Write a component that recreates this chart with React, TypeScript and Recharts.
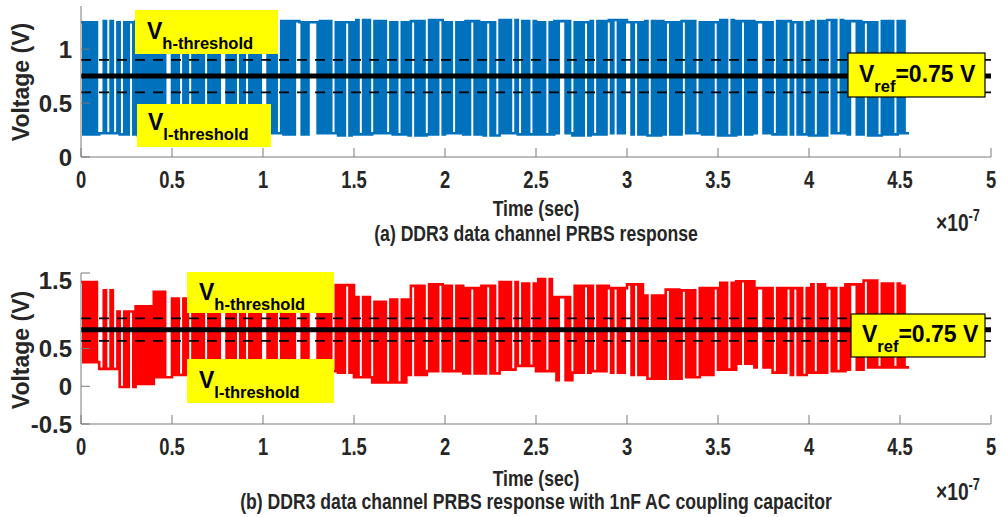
import { Line, LineChart, ReferenceLine, XAxis, YAxis } from "recharts";

// One bit period (1.25 ns) and the envelope sample spacing, both in units of 1e-7 s.
const UI = 0.0125;
const ENV_STEP = 0.1;

// Shared PRBS pattern, written as alternating run lengths (first run high).
const bitRuns = [
  "1111111 3 1212 12 112 11111111111111 3 1112 112 111112 111113 11112 112 111113 11112 1111113 1114",
  "11111121111211112111211111211121111211112111121111211111121111121121111121",
  "21112111112111131121111211211112121113121111211111121111121111211111121111",
  "21111211111311112111121211211121111211211113111211112111112111 2",
];

const timeTicks = [0, 0.5, 1, 1.5, 2, 2.5, 3, 3.5, 4, 4.5, 5];
const topVoltTicks = [0, 0.5, 1];
const bottomVoltTicks = [-0.5, 0, 0.5, 1, 1.5];

const V_REF = 0.75;
const V_H = 0.9;
const V_L = 0.6;

// Settled high / low levels every 10 ns, plain channel.
const plainHigh = [
  1.25, 1.26, 1.25, 1.26, 1.25, 1.26, 1.26, 1.25, 1.27, 1.26, 1.25, 1.26, 1.25, 1.26, 1.25, 1.27,
  1.26, 1.25, 1.26, 1.27, 1.25, 1.26, 1.25, 1.27, 1.26, 1.25, 1.26, 1.25, 1.26, 1.27, 1.25, 1.26,
  1.25, 1.26, 1.25, 1.27, 1.26, 1.25, 1.26, 1.25, 1.26, 1.27, 1.26, 1.25, 1.26, 1.26,
];
const plainLow = [
  0.21, 0.22, 0.21, 0.2, 0.22, 0.21, 0.22, 0.21, 0.2, 0.21, 0.22, 0.21, 0.21, 0.22, 0.2, 0.21,
  0.22, 0.21, 0.2, 0.21, 0.22, 0.21, 0.2, 0.22, 0.21, 0.21, 0.22, 0.2, 0.21, 0.22, 0.21, 0.2,
  0.21, 0.22, 0.21, 0.2, 0.21, 0.22, 0.21, 0.21, 0.2, 0.22, 0.21, 0.2, 0.21, 0.22,
];

// Same, with the 1 nF AC coupling capacitor (baseline wander).
const acHigh = [
  1.38, 1.27, 0.99, 1.06, 1.25, 1.16, 1.23, 1.25, 1.28, 1.3, 1.3, 1.32, 1.32, 1.33, 1.34, 1.18,
  1.12, 1.15, 1.33, 1.35, 1.33, 1.3, 1.33, 1.38, 1.36, 1.42, 1.18, 1.33, 1.33, 1.3, 1.35, 1.2,
  1.28, 1.27, 1.3, 1.37, 1.39, 1.3, 1.3, 1.3, 1.35, 1.3, 1.35, 1.4, 1.36, 1.33,
];
const acLow = [
  0.32, 0.23, -0.01, 0.03, 0.12, 0.15, 0.17, 0.2, 0.2, 0.22, 0.22, 0.22, 0.2, 0.2, 0.18, 0.12,
  0.05, 0.05, 0.15, 0.2, 0.2, 0.17, 0.17, 0.22, 0.27, 0.2, 0.08, 0.18, 0.2, 0.18, 0.15, 0.1,
  0.1, 0.12, 0.15, 0.22, 0.3, 0.25, 0.18, 0.15, 0.18, 0.2, 0.22, 0.25, 0.25, 0.25,
];

interface Sample {
  t: number;
  v: number;
}

function buildWave(high: number[], low: number[]): Sample[] {
  const runs = bitRuns.join("").replace(/\s/g, "").split("").map(Number);
  const pts: Sample[] = [];
  let bit = 0;
  let level = 1;
  for (const r of runs) {
    for (let k = 0; k < r; k += 1) {
      const t = bit * UI;
      const seg = Math.min(Math.floor(t / ENV_STEP + 1e-9), high.length - 1);
      pts.push({ t, v: level ? high[seg] : low[seg] });
      bit += 1;
    }
    level = 1 - level;
  }
  pts.push({ t: bit * UI, v: pts[pts.length - 1].v });
  return pts;
}

const FONT = "'Liberation Sans', Arial, sans-serif";
const AXIS = "#7a7a7a";
const INK = "#262626";

function NarrowTick({ x, y, payload }: any) {
  return (
    <text
      transform={`translate(${x},${y}) scale(0.8,1)`}
      textAnchor="middle"
      dy="0.71em"
      fontSize={23}
      fontWeight="bold"
      fontFamily={FONT}
      fill={INK}
    >
      {payload.value}
    </text>
  );
}

interface PanelProps {
  data: Sample[];
  color: string;
  domain: [number, number];
  ticks: number[];
}

function Panel({ data, color, domain, ticks }: PanelProps) {
  return (
    <LineChart
      width={1002}
      height={215}
      data={data}
      margin={{ top: 6, right: 11, bottom: 0, left: 0 }}
    >
      <XAxis
        xAxisId="b"
        dataKey="t"
        type="number"
        domain={[0, 5]}
        ticks={timeTicks}
        allowDataOverflow
        height={58}
        stroke={AXIS}
        tickSize={-9}
        tickMargin={24}
        tick={<NarrowTick />}
      />
      <XAxis
        xAxisId="t"
        orientation="top"
        dataKey="t"
        type="number"
        domain={[0, 5]}
        ticks={timeTicks}
        height={0}
        stroke={AXIS}
        tickSize={-9}
        tick={false}
      />
      <YAxis
        yAxisId="l"
        type="number"
        domain={domain}
        ticks={ticks}
        allowDataOverflow
        width={81}
        stroke={AXIS}
        tickSize={-9}
        tickMargin={18}
        tick={{ fill: INK, fontSize: 24, fontWeight: "bold", fontFamily: FONT }}
      />
      <YAxis
        yAxisId="r"
        orientation="right"
        type="number"
        domain={domain}
        ticks={ticks}
        allowDataOverflow
        width={0}
        stroke={AXIS}
        tickSize={-9}
        tick={false}
      />
      <Line
        xAxisId="b"
        yAxisId="l"
        dataKey="v"
        type="stepAfter"
        stroke={color}
        strokeWidth={2.6}
        dot={false}
        isAnimationActive={false}
      />
      <ReferenceLine xAxisId="b" yAxisId="l" y={V_H} stroke="#000" strokeWidth={1.8} strokeDasharray="10 8" />
      <ReferenceLine xAxisId="b" yAxisId="l" y={V_L} stroke="#000" strokeWidth={1.8} strokeDasharray="10 8" />
      <ReferenceLine xAxisId="b" yAxisId="l" y={V_REF} stroke="#000" strokeWidth={5} />
    </LineChart>
  );
}

interface BoxProps {
  x: number;
  y: number;
  w: number;
  h: number;
  tx: number;
  ty: number;
  sub: string;
  rest?: string;
  border?: boolean;
}

// Yellow threshold callouts: big "V" with a subscript tag.
function Callout({ x, y, w, h, tx, ty, sub, rest, border }: BoxProps) {
  return (
    <g>
      <rect
        x={x}
        y={y}
        width={w}
        height={h}
        fill="#ffff00"
        stroke={border ? "#000" : "none"}
        strokeWidth={border ? 1.2 : 0}
      />
      <text x={tx} y={ty} fontFamily={FONT} fontWeight="bold" fill="#000" fontSize={23}>
        V
        <tspan fontSize={16.5} dy={10}>
          {sub}
        </tspan>
        {rest ? (
          <tspan fontSize={23} dy={-10}>
            {rest}
          </tspan>
        ) : null}
      </text>
    </g>
  );
}

function NarrowText({ x, y, size, children }: { x: number; y: number; size: number; children: any }) {
  return (
    <text
      transform={`translate(${x},${y}) scale(0.8,1)`}
      textAnchor="middle"
      fontSize={size}
      fontWeight="bold"
      fontFamily={FONT}
      fill={INK}
    >
      {children}
    </text>
  );
}

export default function App() {
  const plain = buildWave(plainHigh, plainLow);
  const coupled = buildWave(acHigh, acLow);

  return (
    <div
      style={{
        position: "absolute",
        left: 0,
        top: 0,
        width: 1002,
        height: 517,
        background: "#fff",
        overflow: "hidden",
      }}
    >
      <div style={{ position: "absolute", left: 0, top: 0 }}>
        <Panel data={plain} color="#0072bd" domain={[0, 1.4]} ticks={topVoltTicks} />
      </div>
      <div style={{ position: "absolute", left: 0, top: 267 }}>
        <Panel data={coupled} color="#ff0000" domain={[-0.5, 1.5]} ticks={bottomVoltTicks} />
      </div>
      <svg
        width={1002}
        height={517}
        style={{ position: "absolute", left: 0, top: 0, pointerEvents: "none" }}
      >
        <Callout x={135} y={10} w={143} h={44} tx={147} ty={39} sub="h-threshold" />
        <Callout x={137} y={104} w={134} h={43} tx={148} ty={130} sub="l-threshold" />
        <Callout x={848} y={53} w={137} h={44} tx={859} ty={82} sub="ref" rest="=0.75 V" border />

        <Callout x={187} y={272} w={147} h={41} tx={199} ty={300} sub="h-threshold" />
        <Callout x={187} y={359} w={147} h={44} tx={199} ty={388} sub="l-threshold" />
        <Callout x={851} y={314} w={134} h={43} tx={862} ty={342} sub="ref" rest="=0.75 V" border />

        <text
          transform="translate(29,82) rotate(-90)"
          textAnchor="middle"
          fontSize={23}
          fontWeight="bold"
          fontFamily={FONT}
          fill={INK}
        >
          Voltage (V)
        </text>
        <text
          transform="translate(29,350) rotate(-90)"
          textAnchor="middle"
          fontSize={23}
          fontWeight="bold"
          fontFamily={FONT}
          fill={INK}
        >
          Voltage (V)
        </text>

        <NarrowText x={536} y={216} size={22}>
          Time (sec)
        </NarrowText>
        <NarrowText x={536} y={241} size={22}>
          (a) DDR3 data channel PRBS response
        </NarrowText>
        <NarrowText x={958} y={231} size={24}>
          ×10<tspan fontSize={16} dy={-10}>-7</tspan>
        </NarrowText>

        <NarrowText x={536} y={486} size={22}>
          Time (sec)
        </NarrowText>
        <NarrowText x={536} y={509} size={22}>
          (b) DDR3 data channel PRBS response with 1nF AC coupling capacitor
        </NarrowText>
        <NarrowText x={958} y={500} size={24}>
          ×10<tspan fontSize={16} dy={-10}>-7</tspan>
        </NarrowText>
      </svg>
    </div>
  );
}
